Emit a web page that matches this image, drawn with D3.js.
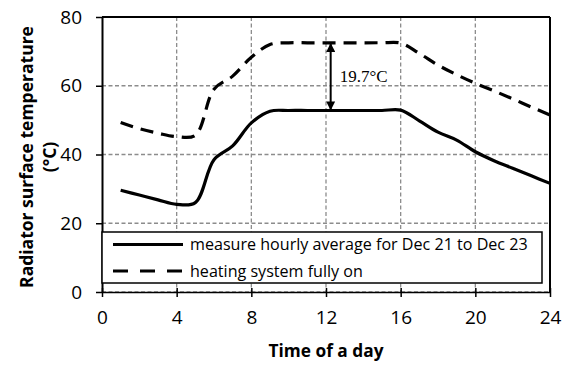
<!DOCTYPE html>
<html>
<head>
    <title>radiator</title>
    <style>
        body { margin: 0; background: #fff; overflow: hidden; }
        svg text { font-family: "Open Sans", sans-serif; }
    </style>
    <script src="https://d3js.org/d3.v7.min.js"></script>
</head>
<body>
<script>
    // hours of the day
    const hours = [1, 2, 3, 4, 5, 6, 7, 8, 9, 10, 11, 12, 13, 14, 15, 16, 17, 18, 19, 20, 21, 22, 23, 24];
    // measured hourly average, Dec 21 to Dec 23
    const measured = [29.6, 28.2, 26.8, 25.5, 26.0, 38.5, 42.5, 49.2, 52.6, 52.8, 52.8, 52.8,
        52.8, 52.8, 52.8, 52.9, 49.8, 46.5, 44.2, 40.8, 38.2, 36.0, 33.8, 31.6];
    // heating system fully on
    const fullyOn = [49.3, 47.5, 46.2, 45.2, 45.6, 59.0, 62.8, 68.3, 72.0, 72.5, 72.5, 72.5,
        72.5, 72.5, 72.5, 72.4, 69.4, 66.0, 63.2, 60.7, 58.5, 56.2, 53.8, 51.5];
    const xTicks = [0, 4, 8, 12, 16, 20, 24];
    const yTicks = [0, 20, 40, 60, 80];
    const legendLabels = ["measure hourly average for Dec 21 to Dec 23", "heating system fully on"];
    // annotation: gap between the two curves
    const gapHour = 12.25, gapTop = 72.5, gapBottom = 52.8, gapLabel = "19.7°C";

    const W = 567, H = 365;
    const m = {left: 102, right: 17, top: 17, bottom: 73};

    const svg = d3.select("body").append("svg")
        .attr("width", W)
        .attr("height", H);

    const x = d3.scaleLinear().domain([0, 24]).range([m.left, W - m.right]);
    const y = d3.scaleLinear().domain([0, 80]).range([H - m.bottom, m.top]);

    // grid
    svg.append("g")
        .selectAll("line.gx")
        .data(xTicks.slice(1, -1))
        .join("line")
        .attr("x1", d => x(d)).attr("x2", d => x(d))
        .attr("y1", y(80)).attr("y2", y(0))
        .attr("stroke", "#8c8c8c").attr("stroke-width", 1.3)
        .attr("stroke-dasharray", "4,2.5");
    svg.append("g")
        .selectAll("line.gy")
        .data(yTicks.slice(0, -1))
        .join("line")
        .attr("x1", x(0)).attr("x2", x(24))
        .attr("y1", d => y(d)).attr("y2", d => y(d))
        .attr("stroke", "#8c8c8c").attr("stroke-width", 1.3)
        .attr("stroke-dasharray", "4,2.5");

    // frame
    svg.append("line")
        .attr("x1", x(0)).attr("x2", x(24)).attr("y1", y(80)).attr("y2", y(80))
        .attr("stroke", "#000").attr("stroke-width", 2);
    svg.append("line")
        .attr("x1", x(24)).attr("x2", x(24)).attr("y1", y(80)).attr("y2", y(0))
        .attr("stroke", "#000").attr("stroke-width", 2);

    // axes
    const xAxis = svg.append("g")
        .attr("transform", `translate(0,${y(0)})`)
        .call(d3.axisBottom(x).tickValues(xTicks).tickSize(5).tickPadding(14).tickSizeOuter(0));
    xAxis.selectAll(".tick line").attr("y1", -4).attr("stroke-width", 1.5);
    xAxis.select(".domain").attr("stroke-width", 1.3);

    const yAxis = svg.append("g")
        .attr("transform", `translate(${x(0)},0)`)
        .call(d3.axisLeft(y).tickValues(yTicks).tickSize(6).tickPadding(14).tickSizeOuter(0));
    yAxis.selectAll(".tick line").attr("stroke-width", 1.5);
    yAxis.select(".domain").attr("stroke-width", 2);

    svg.selectAll(".tick text")
        .attr("font-size", 19)
        .attr("fill", "#000")
        .style("font-family", "'Open Sans', sans-serif");
    xAxis.selectAll(".tick text").attr("dy", "0.71em");

    // curves
    const line = d3.line()
        .x((d, i) => x(hours[i]))
        .y(d => y(d))
        .curve(d3.curveCatmullRom.alpha(0.5));

    svg.append("path")
        .datum(fullyOn)
        .attr("d", line)
        .attr("fill", "none")
        .attr("stroke", "#000")
        .attr("stroke-width", 3.2)
        .attr("stroke-dasharray", "13,8");

    svg.append("path")
        .datum(measured)
        .attr("d", line)
        .attr("fill", "none")
        .attr("stroke", "#000")
        .attr("stroke-width", 3.2);

    // annotation arrow
    const defs = svg.append("defs");
    defs.append("marker")
        .attr("id", "arrow")
        .attr("viewBox", "0 0 10 10")
        .attr("refX", 9).attr("refY", 5)
        .attr("markerWidth", 5).attr("markerHeight", 4.5)
        .attr("orient", "auto-start-reverse")
        .append("path")
        .attr("d", "M0,0 L10,5 L0,10 Z")
        .attr("fill", "#000");

    svg.append("line")
        .attr("x1", x(gapHour)).attr("x2", x(gapHour))
        .attr("y1", y(gapTop) + 1).attr("y2", y(gapBottom) - 1)
        .attr("stroke", "#000").attr("stroke-width", 2)
        .attr("marker-start", "url(#arrow)")
        .attr("marker-end", "url(#arrow)");

    svg.append("text")
        .attr("x", x(gapHour) + 9)
        .attr("y", y(61.1))
        .style("font-family", "'Liberation Serif', 'Times New Roman', serif")
        .attr("font-size", 17)
        .text(gapLabel);

    // legend
    const lg = svg.append("g");
    lg.append("rect")
        .attr("x", x(0)).attr("y", 232)
        .attr("width", 440).attr("height", 51)
        .attr("fill", "#fff").attr("stroke", "#000").attr("stroke-width", 1.5);
    lg.selectAll("line.lg")
        .data(legendLabels)
        .join("line")
        .attr("x1", 113).attr("x2", 183)
        .attr("y1", (d, i) => 244.5 + i * 26.5).attr("y2", (d, i) => 244.5 + i * 26.5)
        .attr("stroke", "#000").attr("stroke-width", 3.2)
        .attr("stroke-dasharray", (d, i) => i ? "15,12" : null);
    lg.selectAll("text.lg")
        .data(legendLabels)
        .join("text")
        .attr("x", 190)
        .attr("y", (d, i) => 244.5 + i * 26.5)
        .attr("dy", "0.35em")
        .attr("font-size", 16.1)
        .text(d => d);

    // axis titles
    svg.append("text")
        .attr("x", x(12))
        .attr("y", 357)
        .attr("text-anchor", "middle")
        .attr("font-weight", "bold")
        .attr("font-size", 17.3)
        .text("Time of a day");

    const yt = svg.append("text")
        .attr("transform", `translate(33,157) rotate(-90)`)
        .attr("text-anchor", "middle")
        .attr("font-weight", "bold")
        .attr("font-size", 17.5);
    yt.append("tspan").attr("x", 0).attr("y", 0).text("Radiator surface temperature");
    yt.append("tspan").attr("x", 0).attr("y", 23).text("(°C)");
</script>
</body>
</html>
